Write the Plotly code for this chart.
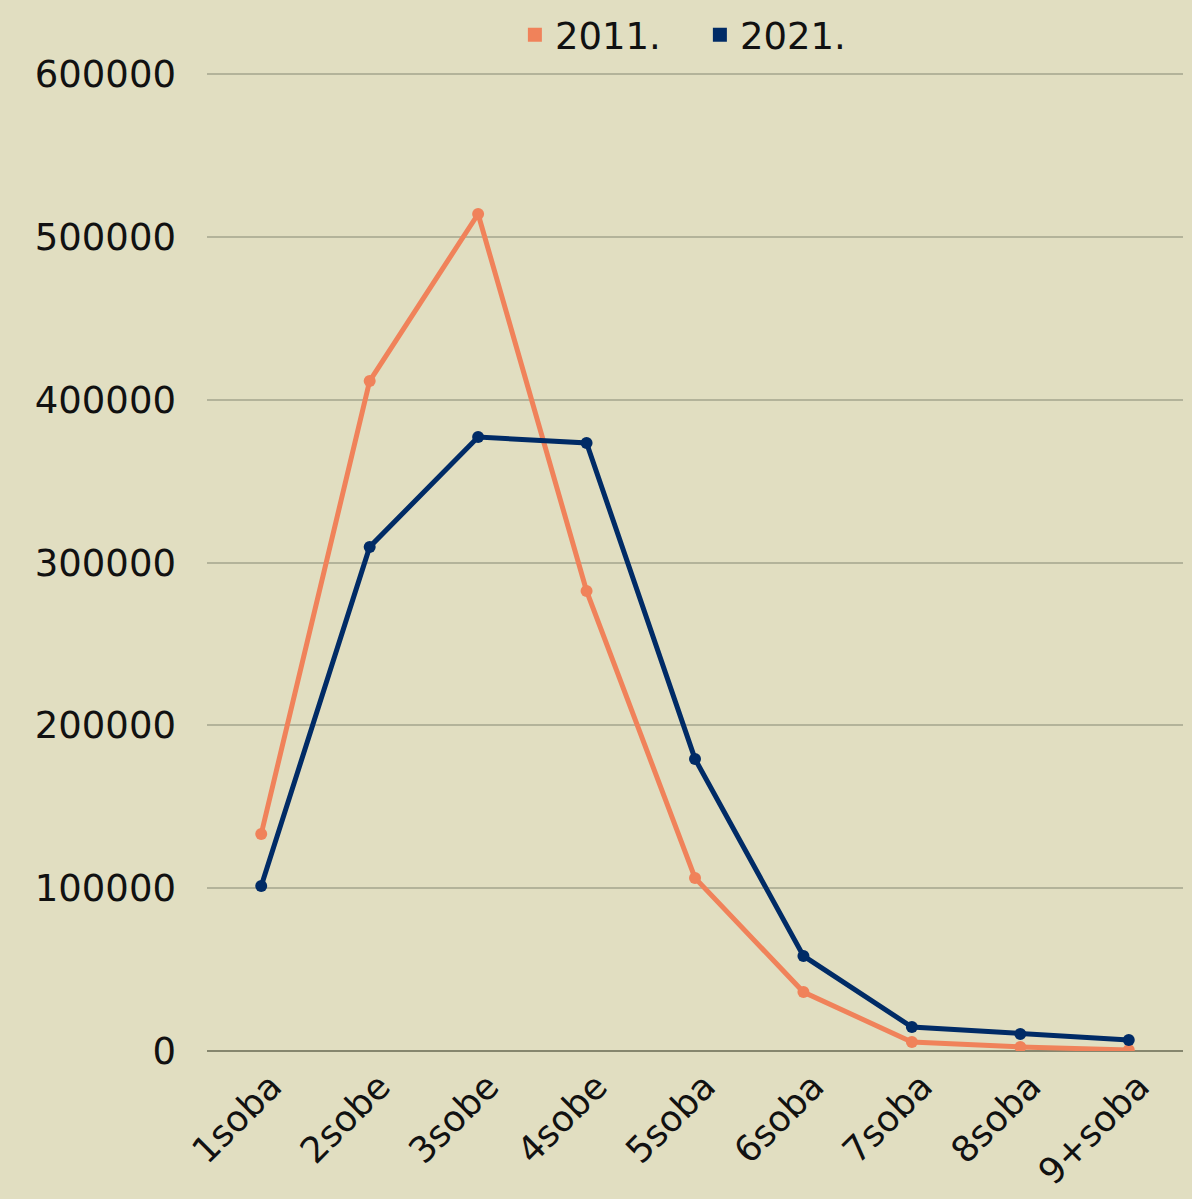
import plotly.graph_objects as go

categories = ["1soba", "2sobe", "3sobe", "4sobe", "5soba", "6soba", "7soba", "8soba", "9+soba"]
v2011 = [133300, 411500, 514100, 282600, 106300, 36200, 5500, 2500, 600]
v2021 = [101400, 309600, 377100, 373500, 179400, 58400, 14700, 10400, 6800]
yticks = [0, 100000, 200000, 300000, 400000, 500000, 600000]

c2011 = "#f0825a"
c2021 = "#002b66"
bg = "#e1dec1"
font = "DejaVu Sans"

fig = go.Figure()
for name, vals, col in [("2011.", v2011, c2011), ("2021.", v2021, c2021)]:
    fig.add_trace(go.Scatter(x=categories, y=vals, mode="lines+markers", name=name,
                             line=dict(color=col, width=5), marker=dict(color=col, size=12),
                             showlegend=False))
for name, col in [("2011.", c2011), ("2021.", c2021)]:
    fig.add_trace(go.Scatter(x=[None], y=[None], mode="markers", name=name,
                             marker=dict(color=col, size=14, symbol="square")))

fig.update_layout(
    width=1192, height=1199,
    paper_bgcolor=bg, plot_bgcolor=bg,
    margin=dict(l=207, r=9, t=73, b=148, autoexpand=False),
    font=dict(family=font, size=37, color="#111111"),
    legend=dict(orientation="h", x=0.505, xanchor="center", y=1.007, yanchor="bottom",
                font=dict(size=37), itemwidth=30, entrywidth=140, bgcolor="rgba(0,0,0,0)"),
    xaxis=dict(type="category", range=[-0.5, 8.5], tickangle=-45, showgrid=False,
               ticks="", showline=False, tickfont=dict(size=36), automargin=False,
               ticklabelstandoff=6, ticklabelshift=10),
    yaxis=dict(range=[0, 600700], tickvals=yticks, ticktext=[str(v) for v in yticks],
               showgrid=True, gridcolor="#b3b39a", gridwidth=1.5, automargin=False,
               zeroline=True, zerolinecolor="#86866e", zerolinewidth=2,
               ticks="", showline=False, ticklabelstandoff=30, tickfont=dict(size=37)),
)
fig.write_html("out.html", config={"displayModeBar": False},
               post_script="document.body.style.margin='0';document.body.style.background='%s';" % bg)
